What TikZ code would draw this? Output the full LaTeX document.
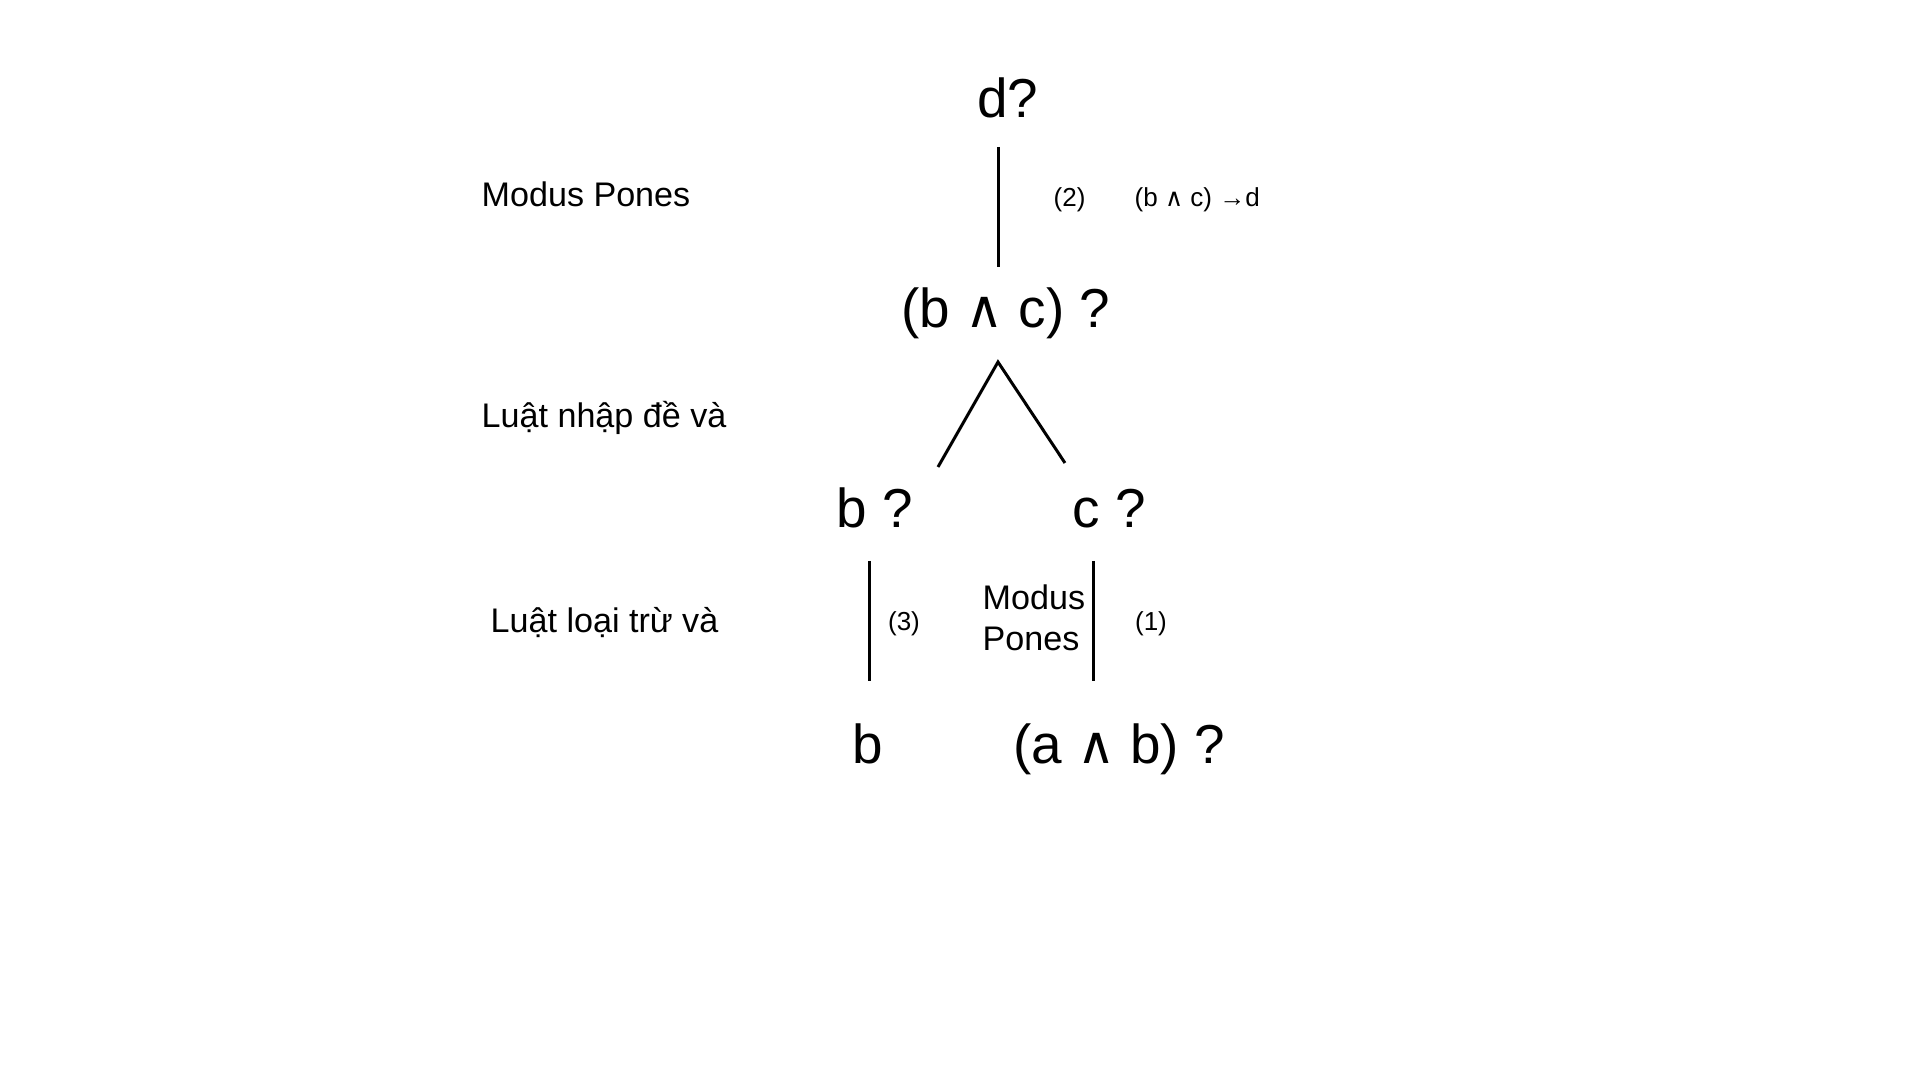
\documentclass[tikz,border=0pt]{standalone}
\usepackage{fontspec}
\setmainfont{Liberation Sans}
\newfontfamily\symf{DejaVu Sans}
\newcommand{\wedgechar}{\scalebox{0.95}{\symf ∧}}
\begin{document}
\begin{tikzpicture}[x=0.01cm,y=-0.01cm,
  big/.style={inner sep=0pt, font=\fontsize{15.6pt}{18pt}\selectfont},
  mid/.style={inner sep=0pt, font=\fontsize{9.7pt}{11.6pt}\selectfont},
  small/.style={inner sep=0pt, font=\fontsize{7.4pt}{9pt}\selectfont},
  edge/.style={line width=0.85pt}]
\useasboundingbox[fill=white] (0,0) rectangle (1920,1080);

% left rule labels
\node[mid, anchor=base west] (mp)  at (481,207) {Modus Pones};
\node[mid, anchor=base west] (lnd) at (481,428) {Luật nhập đề và};
\node[mid, anchor=base west] (llt) at (490,633) {Luật loại trừ và};

% tree nodes
\node[big, anchor=base] (d)  at (1008,118) {d?};
\node[big, anchor=base] (bc) at (1006,328) {(b \wedgechar{} c) ?};
\node[big, anchor=base] (bq) at (875,528)  {b ?};
\node[big, anchor=base] (cq) at (1109,528) {c ?};
\node[big, anchor=base] (b)  at (868,764)  {b};
\node[big, anchor=base] (ab) at (1119,764) {(a \wedgechar{} b) ?};

% small annotations
\node[small, anchor=base west] (n2)    at (1053,207) {(2)};
\node[small, anchor=base west] (rule2) at (1134,207) {(b \wedgechar{} c) →d};
\node[small, anchor=base] (n3) at (904,631)  {(3)};
\node[small, anchor=base] (n1) at (1151,631) {(1)};
\node[mid, anchor=base west] (mpA) at (982,610) {Modus};
\node[mid, anchor=base west] (mpB) at (982,651) {Pones};

% connector end points
\coordinate (t1) at (998,147);
\coordinate (t2) at (998,267);
\coordinate (apex) at (998,362);
\coordinate (lend) at (938,467);
\coordinate (rend) at (1065,463);
\coordinate (la) at (869,561);
\coordinate (lb) at (869,681);
\coordinate (ra) at (1093,561);
\coordinate (rb) at (1093,681);

\draw[edge] (t1) -- (t2);
\draw[edge] (lend) -- (apex) -- (rend);
\draw[edge] (la) -- (lb);
\draw[edge] (ra) -- (rb);
\end{tikzpicture}
\end{document}
